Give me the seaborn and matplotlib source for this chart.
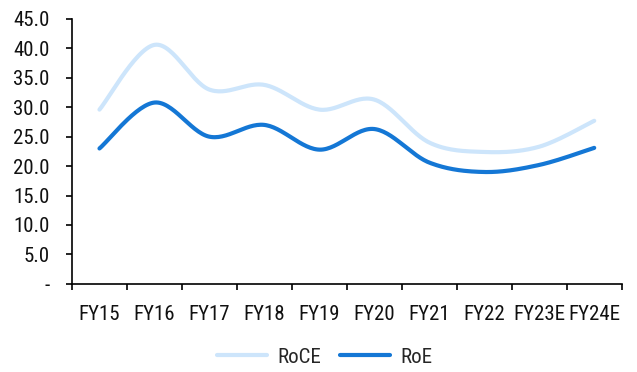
import numpy as np
import pandas as pd
import matplotlib
matplotlib.use("Agg")
import matplotlib.pyplot as plt
from matplotlib import font_manager
from matplotlib.ticker import FixedLocator, NullFormatter
import seaborn as sns

categories = ["FY15", "FY16", "FY17", "FY18", "FY19", "FY20", "FY21", "FY22", "FY23E", "FY24E"]
roce = [29.6, 40.6, 33.0, 33.8, 29.6, 31.3, 24.0, 22.4, 23.3, 27.7]
roe = [23.0, 30.8, 25.0, 27.0, 22.8, 26.3, 20.6, 19.0, 20.2, 23.1]
y_ticks = [0, 5, 10, 15, 20, 25, 30, 35, 40, 45]
y_labels = ["-", "5.0", "10.0", "15.0", "20.0", "25.0", "30.0", "35.0", "40.0", "45.0"]

ROCE_COLOR = "#CDE5FB"
ROE_COLOR = "#1477D5"
FONT_SIZE = 15


def smooth(values, steps=30):
    """Bezier smoothing through every point (Catmull-Rom style, as in office charts)."""
    p = np.column_stack([np.arange(len(values), dtype=float), np.asarray(values, float)])
    n = len(p)
    xs, ys = [], []
    for i in range(n - 1):
        p0 = p[i - 1] if i > 0 else p[i]
        p3 = p[i + 2] if i + 2 < n else p[i + 1]
        p1, p2 = p[i], p[i + 1]
        c1 = p1 + (p2 - p0) / 6.0
        c2 = p2 - (p3 - p1) / 6.0
        t = np.linspace(0, 1, steps, endpoint=(i == n - 2))[:, None]
        b = (1 - t) ** 3 * p1 + 3 * (1 - t) ** 2 * t * c1 + 3 * (1 - t) * t ** 2 * c2 + t ** 3 * p2
        xs.append(b[:, 0])
        ys.append(b[:, 1])
    return np.concatenate(xs), np.concatenate(ys)


sns.set_theme(style="white")

# prefer a narrow sans face for the labels
installed = {f.name for f in font_manager.fontManager.ttflist}
narrow = [n for n in ("Liberation Sans Narrow", "Roboto Condensed", "Open Sans Condensed")
          if n in installed]
if narrow:
    plt.rcParams["font.family"] = [narrow[0], "DejaVu Sans"]
    plt.rcParams["font.stretch"] = "normal"
else:
    plt.rcParams["font.family"] = ["DejaVu Sans"]
    plt.rcParams["font.stretch"] = "condensed"

fig = plt.figure(figsize=(6.37, 3.72), dpi=100)
ax = fig.add_axes([0.113, 0.237, 0.863, 0.712])

frames = []
for name, vals in (("RoCE", roce), ("RoE", roe)):
    sx, sy = smooth(vals)
    frames.append(pd.DataFrame({"x": sx, "y": sy, "series": name}))
df = pd.concat(frames, ignore_index=True)

sns.lineplot(data=df, x="x", y="y", hue="series", sort=False,
             palette={"RoCE": ROCE_COLOR, "RoE": ROE_COLOR},
             linewidth=3.0, ax=ax, legend=False)

ax.set_xlim(-0.5, len(categories) - 0.5)
ax.set_ylim(0, 45)
ax.set_xlabel("")
ax.set_ylabel("")

# category boundaries carry the tick marks, labels sit between them
ax.xaxis.set_major_locator(FixedLocator(np.arange(-0.5, len(categories), 1.0)))
ax.xaxis.set_major_formatter(NullFormatter())
ax.xaxis.set_minor_locator(FixedLocator(np.arange(len(categories))))
ax.set_xticklabels(categories, minor=True)
ax.tick_params(axis="x", which="major", bottom=True, direction="out", length=4,
               width=1.2, color="black")
ax.tick_params(axis="x", which="minor", bottom=True, length=0, pad=15,
               labelsize=FONT_SIZE, labelcolor="#111111")

ax.set_yticks(y_ticks)
ax.set_yticklabels(y_labels)
ax.tick_params(axis="y", left=True, direction="out", length=4, width=1.2, color="black",
               labelsize=FONT_SIZE, labelcolor="#111111", pad=12)

for side in ("top", "right"):
    ax.spines[side].set_visible(False)
for side in ("left", "bottom"):
    ax.spines[side].set_color("black")
    ax.spines[side].set_linewidth(1.2)

handles = [plt.Line2D([], [], color=ROCE_COLOR, linewidth=3.0),
           plt.Line2D([], [], color=ROE_COLOR, linewidth=3.0)]
fig.legend(handles, ["RoCE", "RoE"], loc="center", bbox_to_anchor=(0.51, 0.04),
           ncol=2, frameon=False, fontsize=FONT_SIZE, handlelength=2.4,
           columnspacing=0.9, handletextpad=0.5, borderpad=0.0)

fig.savefig("out.png", dpi=100)
